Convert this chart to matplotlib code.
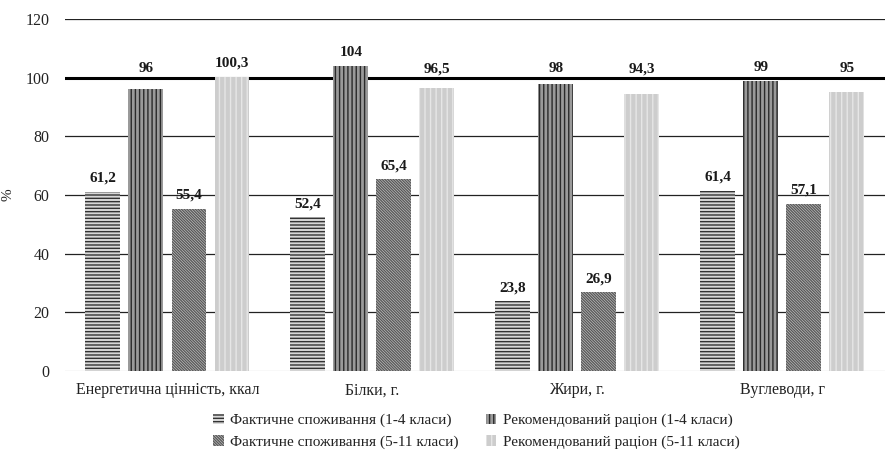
import matplotlib
matplotlib.use("Agg")
import matplotlib.pyplot as plt
import numpy as np

categories = ["Енергетична цінність, ккал", "Білки, г.", "Жири, г.", "Вуглеводи, г"]
series_names = ["Фактичне споживання (1-4 класи)", "Рекомендований раціон (1-4 класи)",
                "Фактичне споживання (5-11 класи)", "Рекомендований раціон (5-11 класи)"]
fact_1_4 = [61.2, 52.4, 23.8, 61.4]
rec_1_4 = [96, 104, 98, 99]
fact_5_11 = [55.4, 65.4, 26.9, 57.1]
rec_5_11 = [100.3, 96.5, 94.3, 95]
yticks = [0, 20, 40, 60, 80, 100, 120]

plt.rcParams['font.family'] = ['Liberation Serif', 'DejaVu Serif']
plt.rcParams['hatch.linewidth'] = 1.0

fig = plt.figure(figsize=(8.9, 4.51), dpi=100)
ax = fig.add_axes([0.073, 0.177, 0.921, 0.781])

styles = [
    dict(facecolor='#d8d8d8', edgecolor='#333333', hatch='-----'),
    dict(facecolor='#9a9a9a', edgecolor='#2a2a2a', hatch='||||'),
    dict(facecolor='#d0d0d0', edgecolor='#5a5a5a', hatch='\\' * 12),
    dict(facecolor='#cdcdcd', edgecolor='#e6e6e6', hatch='|||'),
]
data = [fact_1_4, rec_1_4, fact_5_11, rec_5_11]
x = np.arange(len(categories))
pitch = 0.21
width = 0.17
handles = []
for i, (vals, st) in enumerate(zip(data, styles)):
    pos = x + (i - 1.5) * pitch
    bars = ax.bar(pos, vals, width, linewidth=0, zorder=3, label=series_names[i], **st)
    handles.append(bars)
    for p, v in zip(pos, vals):
        anchor = max(v, 98.5) if v > 90 else v
        ax.annotate(f"{v:g}".replace('.', ','), (p, anchor), xytext=(0, 5), textcoords='offset points',
                    ha='center', va='bottom', fontsize=11, fontweight='bold', color='#1a1a1a',
                    zorder=5)

ax.set_ylim(0, 120)
ax.set_xlim(-0.5, len(categories) - 0.5)
ax.set_yticks(yticks)
ax.set_xticks(x)
ax.set_xticklabels(categories, fontsize=11.5)
ax.tick_params(axis='both', length=0, colors='#222222')
ax.tick_params(axis='y', pad=11, labelsize=11.5)
ax.tick_params(axis='x', pad=8)
for s in ax.spines.values():
    s.set_visible(False)
for t in yticks:
    if t == 0:
        ax.axhline(t, color='#e0e0e0', lw=1.0, zorder=1)
    elif t == 100:
        ax.axhline(t, color='#000000', lw=2.2, zorder=1)
    else:
        ax.axhline(t, color='#222222', lw=0.9, zorder=1)
ax.set_ylabel('%', fontsize=11, color='#222222')
ax.yaxis.set_label_coords(-0.062, 0.5)

order = [0, 2, 1, 3]
leg = fig.legend([handles[k] for k in order], [series_names[k] for k in order],
                 loc='lower center', bbox_to_anchor=(0.535, -0.026), ncol=2, frameon=False,
                 fontsize=11, handlelength=0.7, handleheight=0.7, handletextpad=0.4,
                 columnspacing=1.8, labelspacing=0.5)
for t in leg.get_texts():
    t.set_color('#222222')

fig.savefig('out.png', dpi=100)
